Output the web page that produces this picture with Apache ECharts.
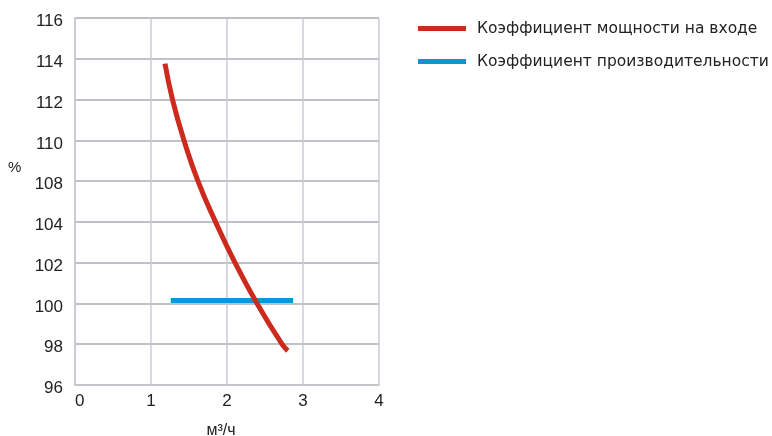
<!DOCTYPE html>
<html>
<head>
<meta charset="utf-8">
<script src="https://cdn.jsdelivr.net/npm/echarts@6/dist/echarts.min.js"></script>
<style>html,body{margin:0;padding:0;background:#fff;}#c{width:772px;height:436px;}</style>
</head>
<body>
<div id="c"></div>
<script>
// Tick labels of the (broken) y axis, bottom to top — the source skips 106
var yTickLabels = [96, 98, 100, 102, 104, 108, 110, 112, 114, 116];
var xTickLabels = [0, 1, 2, 3, 4];
var seriesNames = ['Коэффициент мощности на входе', 'Коэффициент производительности'];
// Input power coefficient (x in m³/h, y in %)
var powerX = [1.184, 1.283, 1.434, 1.618, 1.849, 2.105, 2.395, 2.724, 2.80];
var powerY = [113.76, 112, 110, 108, 104, 102, 100, 98, 97.68];
// Capacity coefficient
var capX = [1.26, 2.87];
var capY = [100.15, 100.15];

// map a % value onto the axis position following the tick labels (piecewise linear)
function toAxis(v) {
  for (var i = 0; i < yTickLabels.length - 1; i++) {
    var a = yTickLabels[i], b = yTickLabels[i + 1];
    if (v <= b || i === yTickLabels.length - 2) {
      return i + (v - a) / (b - a);
    }
  }
}
function build(xs, ys) {
  return xs.map(function (x, i) { return [x, toAxis(ys[i])]; });
}

var font = 'Liberation Sans, Arial, sans-serif';
var chart = echarts.init(document.getElementById('c'), null, {renderer: 'canvas'});
chart.setOption({
  animation: false,
  backgroundColor: '#ffffff',
  grid: {left: 75, right: 393, top: 18, bottom: 51, containLabel: false, outerBoundsMode: 'none'},
  legend: {
    left: 418, top: 20, orient: 'vertical', padding: 0,
    icon: 'rect', itemWidth: 48, itemHeight: 5, itemGap: 16,
    textStyle: {fontFamily: 'DejaVu Sans, sans-serif', fontSize: 15.5, color: '#222', padding: [0, 0, 0, 6], lineHeight: 17},
    data: seriesNames
  },
  graphic: [{
    type: 'text', left: 8, top: 160,
    style: {text: '%', font: '15px ' + font, fill: '#222'}
  }],
  xAxis: {
    type: 'value', min: 0, max: 4, interval: 1,
    name: 'м³/ч', nameLocation: 'middle', nameGap: 38,
    nameTextStyle: {fontFamily: font, fontSize: 16, color: '#222', padding: [0, 12, 0, 0]},
    axisLine: {show: true, lineStyle: {color: '#c4c8cd', width: 1.5}},
    axisTick: {show: false},
    axisLabel: {fontFamily: font, fontSize: 17, color: '#222', margin: 8, alignMinLabel: 'left',
      formatter: function (v) { return String(xTickLabels[Math.round(v)]); }},
    splitLine: {show: true, lineStyle: {color: '#c8ccd2', width: 1.5}}
  },
  yAxis: {
    type: 'value', min: 0, max: yTickLabels.length - 1, interval: 1,
    axisLine: {show: true, lineStyle: {color: '#c4c8cd', width: 1.5}},
    axisTick: {show: false},
    axisLabel: {fontFamily: font, fontSize: 17, color: '#222', margin: 12,
      formatter: function (v) { return '{a|' + yTickLabels[Math.round(v)] + '}'; },
      rich: {a: {fontFamily: font, fontSize: 17, color: '#222', padding: [7, 0, 0, 0]}}},
    splitLine: {show: true, lineStyle: {color: '#a9adb3', width: 1.5}}
  },
  series: [
    {
      name: seriesNames[0], type: 'line', smooth: 0.5, showSymbol: false, symbol: 'none',
      data: build(powerX, powerY), color: '#cc2a1c',
      lineStyle: {width: 5, color: '#cc2a1c', cap: 'butt'}, z: 3
    },
    {
      name: seriesNames[1], type: 'line', showSymbol: false, symbol: 'none',
      data: build(capX, capY), color: '#0a96d8',
      lineStyle: {width: 5, color: '#0a96d8', cap: 'butt'}, z: 2
    }
  ]
});
</script>
</body>
</html>
